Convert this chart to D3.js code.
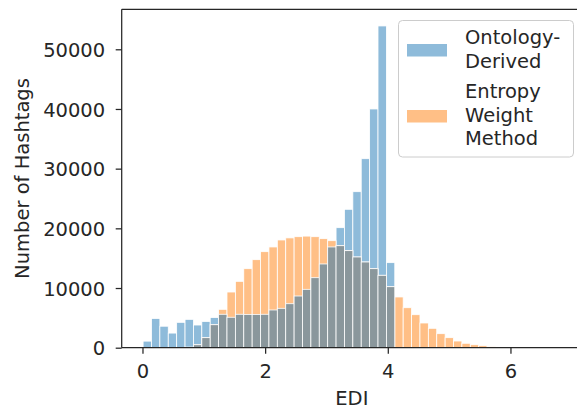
<!DOCTYPE html>
<html><head><meta charset="utf-8">
<script src="https://cdn.jsdelivr.net/npm/d3@7"></script>
<style>html,body{margin:0;padding:0;background:#fff;overflow:hidden}svg{display:block;font-family:"DejaVu Sans",sans-serif}</style>
</head><body>
<script>
// Histogram bins (EDI), shared for both series
const binStart = 0.01;
const binWidth = 0.1368;
const ontologyCounts = [1100,4900,3600,2450,4250,4750,3800,4400,5050,5600,5100,5600,5580,5580,5600,6320,6600,7370,8660,9780,11730,14030,16880,20110,23190,26140,31670,40000,53910,14250,0,0,0,0,0,0,0,0,0,0,0,0,0,0,0,0,0,0,0];
const entropyCounts = [0,0,0,0,0,80,500,1680,3850,6430,9330,11120,13240,14750,16090,16880,18050,18400,18600,18700,18600,18270,17930,17090,16260,15200,14360,13240,12130,10220,8500,6700,5530,4140,3250,2350,1680,1120,740,500,335,170,80,40,20,10,5,2,1];
const seriesNames = ["Ontology-Derived","Entropy Weight Method"];
const legendLines = [["Ontology-","Derived"],["Entropy","Weight","Method"]];
const xTicks = [0,2,4,6];
const yTicks = [0,10000,20000,30000,40000,50000];

(function () {
const W = 577, H = 409;
const pL = 121.7, pR = 582, pT = 9.3, pB = 347.7;
const x = d3.scaleLinear().domain([-0.3388, 7.1665]).range([pL, pR]);
const y = d3.scaleLinear().domain([0, 56700]).range([pB, pT]);
const blue = "#8ebbda", orange = "#ffbf86", gray = "#8a979c", ink = "#262626";

const svg = d3.select("body").append("svg").attr("width", W).attr("height", H);
svg.append("rect").attr("width", W).attr("height", H).attr("fill", "#fff");

const bins = ontologyCounts.map((v, i) => ({
  x0: binStart + i * binWidth, x1: binStart + (i + 1) * binWidth,
  a: v, b: entropyCounts[i], m: Math.min(v, entropyCounts[i])
}));

const g = svg.append("g");
function drawBars(key, color) {
  g.selectAll(null).data(bins.filter(d => d[key] > 0)).enter().append("rect")
    .attr("x", d => x(d.x0)).attr("width", d => x(d.x1) - x(d.x0))
    .attr("y", d => y(d[key])).attr("height", d => y(0) - y(d[key]))
    .attr("fill", color).attr("stroke", "#fff").attr("stroke-width", 0.8);
}
drawBars("a", blue);
drawBars("b", orange);
drawBars("m", gray);

// spines
svg.append("line").attr("x1", pL).attr("x2", pL).attr("y1", pT).attr("y2", pB).attr("stroke", ink).attr("stroke-width", 1.25);
svg.append("line").attr("x1", pL).attr("x2", pR).attr("y1", pB).attr("y2", pB).attr("stroke", ink).attr("stroke-width", 1.25);
svg.append("line").attr("x1", pL).attr("x2", pR).attr("y1", pT).attr("y2", pT).attr("stroke", ink).attr("stroke-width", 1.25);

// axes
const xAxis = svg.append("g").attr("transform", `translate(0,${pB})`)
  .call(d3.axisBottom(x).tickValues(xTicks).tickFormat(d3.format("d")).tickSize(6).tickPadding(10.5));
const yAxis = svg.append("g").attr("transform", `translate(${pL},0)`)
  .call(d3.axisLeft(y).tickValues(yTicks).tickFormat(d3.format("d")).tickSize(6).tickPadding(10.5));
[xAxis, yAxis].forEach(a => {
  a.select(".domain").remove();
  a.selectAll(".tick line").attr("stroke", ink).attr("stroke-width", 1.25);
  a.selectAll(".tick text").attr("fill", ink).style("font-size", "19.5px").style("font-family", "DejaVu Sans");
});
yAxis.selectAll(".tick text").attr("dy", "0.36em");

svg.append("text").attr("x", (pL + pR) / 2).attr("y", 405).attr("text-anchor", "middle")
  .attr("fill", ink).style("font-size", "19.5px").text("EDI");
svg.append("text").attr("transform", `translate(28.5,${(pT + pB) / 2}) rotate(-90)`).attr("text-anchor", "middle")
  .attr("fill", ink).style("font-size", "19.5px").text("Number of Hashtags");

// legend
const lg = svg.append("g");
lg.append("rect").attr("x", 398.5).attr("y", 20.5).attr("width", 175).attr("height", 136.5).attr("rx", 4)
  .attr("fill", "#fff").attr("fill-opacity", 0.8).attr("stroke", "#cccccc").attr("stroke-width", 1);
const entries = [
  {name: seriesNames[0], lines: legendLines[0], color: blue, patchY: 44, base: 44},
  {name: seriesNames[1], lines: legendLines[1], color: orange, patchY: 110, base: 98}
];
entries.forEach(e => {
  lg.append("rect").attr("x", 407).attr("y", e.patchY).attr("width", 40).attr("height", 12.5).attr("fill", e.color);
  const t = lg.append("text").attr("x", 465).attr("y", e.base).attr("fill", ink).style("font-size", "19.5px");
  e.lines.forEach((l, i) => t.append("tspan").attr("x", 465).attr("y", e.base + i * 23.5).text(l));
});
})();
</script>
</body></html>
